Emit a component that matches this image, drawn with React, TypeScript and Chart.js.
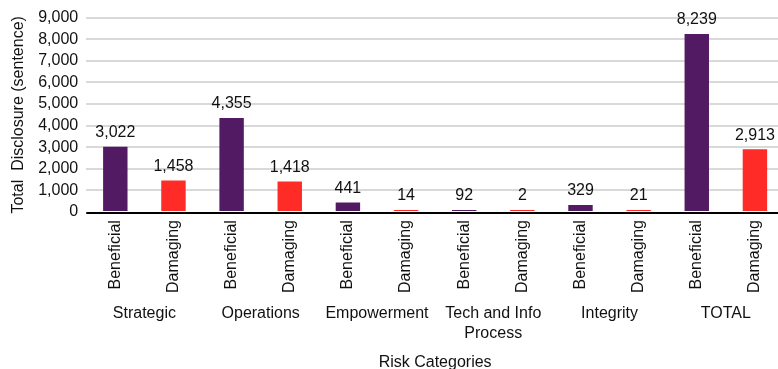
import React, { useEffect, useRef } from 'react';
import { Chart, registerables } from 'chart.js';

Chart.register(...registerables);

const groupLabels: (string | string[])[] = [
  'Strategic',
  'Operations',
  'Empowerment',
  ['Tech and Info', 'Process'],
  'Integrity',
  'TOTAL',
];
const seriesNames = ['Beneficial', 'Damaging'];
const beneficial = [3022, 4355, 441, 92, 329, 8239];
const damaging = [1458, 1418, 14, 2, 21, 2913];
const yMin = 0;
const yMax = 9000;
const yStep = 1000;
const yTitle = 'Total  Disclosure (sentence)';
const xTitle = 'Risk Categories';

const COLORS = ['#521a62', '#ff2b26'];
const FONT = '"Liberation Sans", Arial, Helvetica, sans-serif';

const barLabels = groupLabels.flatMap(() => seriesNames);
const values = groupLabels.flatMap((_, i) => [beneficial[i], damaging[i]]);
const barColors = groupLabels.flatMap(() => COLORS);

const fmt = (v: number) => v.toLocaleString('en-US');

const valueLabelPlugin = {
  id: 'valueLabels',
  afterDatasetsDraw(chart: any) {
    const { ctx, chartArea } = chart;
    const yScale = chart.scales.y;
    const y0 = yScale.getPixelForValue(0);
    ctx.save();
    ctx.strokeStyle = '#000';
    ctx.lineWidth = 2;
    ctx.beginPath();
    ctx.moveTo(chartArea.left, y0 + 1);
    ctx.lineTo(chartArea.right, y0 + 1);
    ctx.stroke();
    const meta = chart.getDatasetMeta(0);
    ctx.font = `16px ${FONT}`;
    ctx.fillStyle = '#111';
    ctx.textAlign = 'center';
    ctx.textBaseline = 'middle';
    meta.data.forEach((bar: any, i: number) => {
      const v = chart.data.datasets[0].data[i] as number;
      ctx.fillText(fmt(v), bar.x, bar.y - 14);
    });
    ctx.restore();
  },
};

export default function App() {
  const ref = useRef<HTMLCanvasElement>(null);

  useEffect(() => {
    const prevMargin = document.body.style.margin;
    document.body.style.margin = '0';
    if (!ref.current) return;
    const chart = new Chart(ref.current, {
      type: 'bar',
      data: {
        labels: barLabels,
        datasets: [
          {
            data: values,
            backgroundColor: barColors,
            borderWidth: 0,
            barPercentage: 0.42,
            categoryPercentage: 1,
            minBarLength: 2,
            xAxisID: 'x',
            yAxisID: 'y',
          },
        ],
      },
      options: {
        responsive: false,
        animation: false,
        events: [],
        layout: { padding: { top: 15, left: 3, right: 0, bottom: 0 } },
        plugins: {
          legend: { display: false },
          tooltip: { enabled: false },
        },
        scales: {
          y: {
            min: yMin,
            max: yMax,
            border: { display: false },
            grid: {
              drawTicks: false,
              lineWidth: 2,
              color: (c: any) => (c.tick && c.tick.value === 0 ? 'rgba(0,0,0,0)' : '#d9d9d9'),
            },
            ticks: {
              stepSize: yStep,
              autoSkip: false,
              padding: 8,
              color: '#111',
              font: { family: FONT, size: 16 },
              callback: (v: any) => fmt(Number(v)),
            },
            title: {
              display: true,
              text: yTitle,
              color: '#111',
              font: { family: FONT, size: 16 },
              padding: { top: 6, bottom: 2 },
            },
          },
          x: {
            weight: 0,
            grid: { display: false, drawTicks: false },
            border: { display: false },
            ticks: {
              autoSkip: false,
              minRotation: 90,
              maxRotation: 90,
              padding: 8,
              color: '#111',
              font: { family: FONT, size: 16 },
            },
          },
          x2: {
            type: 'category',
            position: 'bottom',
            weight: 1,
            labels: groupLabels as any,
            offset: true,
            grid: { display: false, drawTicks: false },
            border: { display: false },
            ticks: {
              autoSkip: false,
              maxRotation: 0,
              minRotation: 0,
              padding: 3,
              color: '#111',
              font: { family: FONT, size: 16, lineHeight: 1.25 },
            },
            title: {
              display: true,
              text: xTitle,
              color: '#111',
              font: { family: FONT, size: 16, lineHeight: 1 },
              padding: { top: 8, bottom: -2 },
            },
          },
        },
      } as any,
      plugins: [valueLabelPlugin],
    });
    return () => {
      chart.destroy();
      document.body.style.margin = prevMargin;
    };
  }, []);

  return (
    <div
      style={{
        position: 'fixed',
        left: 0,
        top: 0,
        width: 778,
        height: 369,
        overflow: 'hidden',
        background: '#fff',
      }}
    >
      <canvas ref={ref} width={784} height={369} style={{ display: 'block' }} />
    </div>
  );
}
